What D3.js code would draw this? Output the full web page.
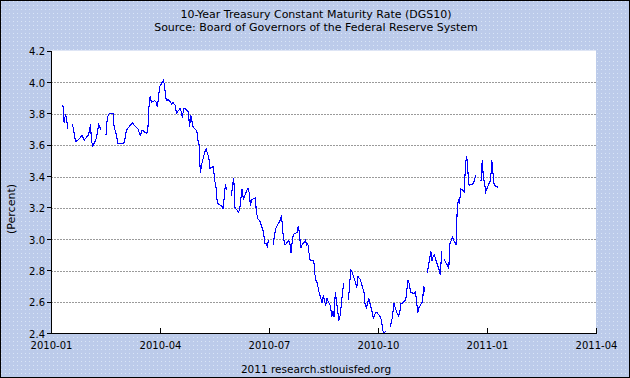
<!DOCTYPE html>
<html><head><meta charset="utf-8">
<script src="https://cdn.jsdelivr.net/npm/d3@7"></script>
<style>
body{margin:0;background:#fff}
svg{display:block}
text{font-family:"DejaVu Sans",Verdana,sans-serif;fill:#000}
</style>
</head><body>
<svg id="chart" width="630" height="378"></svg>
<script>
// ---- data (daily 10-year constant maturity rate, percent; null = market holiday) ----
const dates = [
"2010-01-11","2010-01-12","2010-01-13","2010-01-14","2010-01-15","2010-01-18","2010-01-19","2010-01-20","2010-01-21","2010-01-22","2010-01-25","2010-01-26","2010-01-27","2010-01-28","2010-01-29",
"2010-02-01","2010-02-02","2010-02-03","2010-02-04","2010-02-05","2010-02-08","2010-02-09","2010-02-10","2010-02-11","2010-02-12","2010-02-15","2010-02-16","2010-02-17","2010-02-18","2010-02-19","2010-02-22","2010-02-23","2010-02-24","2010-02-25","2010-02-26",
"2010-03-01","2010-03-02","2010-03-03","2010-03-04","2010-03-05","2010-03-08","2010-03-09","2010-03-10","2010-03-11","2010-03-12","2010-03-15","2010-03-16","2010-03-17","2010-03-18","2010-03-19","2010-03-22","2010-03-23","2010-03-24","2010-03-25","2010-03-26","2010-03-29","2010-03-30","2010-03-31",
"2010-04-01","2010-04-02","2010-04-05","2010-04-06","2010-04-07","2010-04-08","2010-04-09","2010-04-12","2010-04-13","2010-04-14","2010-04-15","2010-04-16","2010-04-19","2010-04-20","2010-04-21","2010-04-22","2010-04-23","2010-04-26","2010-04-27","2010-04-28","2010-04-29","2010-04-30",
"2010-05-03","2010-05-04","2010-05-05","2010-05-06","2010-05-07","2010-05-10","2010-05-11","2010-05-12","2010-05-13","2010-05-14","2010-05-17","2010-05-18","2010-05-19","2010-05-20","2010-05-21","2010-05-24","2010-05-25","2010-05-26","2010-05-27","2010-05-28","2010-05-31",
"2010-06-01","2010-06-02","2010-06-03","2010-06-04","2010-06-07","2010-06-08","2010-06-09","2010-06-10","2010-06-11","2010-06-14","2010-06-15","2010-06-16","2010-06-17","2010-06-18","2010-06-21","2010-06-22","2010-06-23","2010-06-24","2010-06-25","2010-06-28","2010-06-29","2010-06-30",
"2010-07-01","2010-07-02","2010-07-05","2010-07-06","2010-07-07","2010-07-08","2010-07-09","2010-07-12","2010-07-13","2010-07-14","2010-07-15","2010-07-16","2010-07-19","2010-07-20","2010-07-21","2010-07-22","2010-07-23","2010-07-26","2010-07-27","2010-07-28","2010-07-29","2010-07-30",
"2010-08-02","2010-08-03","2010-08-04","2010-08-05","2010-08-06","2010-08-09","2010-08-10","2010-08-11","2010-08-12","2010-08-13","2010-08-16","2010-08-17","2010-08-18","2010-08-19","2010-08-20","2010-08-23","2010-08-24","2010-08-25","2010-08-26","2010-08-27","2010-08-30","2010-08-31",
"2010-09-01","2010-09-02","2010-09-03","2010-09-06","2010-09-07","2010-09-08","2010-09-09","2010-09-10","2010-09-13","2010-09-14","2010-09-15","2010-09-16","2010-09-17","2010-09-20","2010-09-21","2010-09-22","2010-09-23","2010-09-24","2010-09-27","2010-09-28","2010-09-29","2010-09-30",
"2010-10-01","2010-10-04","2010-10-05","2010-10-06","2010-10-07","2010-10-08","2010-10-11","2010-10-12","2010-10-13","2010-10-14","2010-10-15","2010-10-18","2010-10-19","2010-10-20","2010-10-21","2010-10-22","2010-10-25","2010-10-26","2010-10-27","2010-10-28","2010-10-29",
"2010-11-01","2010-11-02","2010-11-03","2010-11-04","2010-11-05","2010-11-08","2010-11-09","2010-11-10","2010-11-11","2010-11-12","2010-11-15","2010-11-16","2010-11-17","2010-11-18","2010-11-19","2010-11-22","2010-11-23","2010-11-24","2010-11-25","2010-11-26","2010-11-29","2010-11-30",
"2010-12-01","2010-12-02","2010-12-03","2010-12-06","2010-12-07","2010-12-08","2010-12-09","2010-12-10","2010-12-13","2010-12-14","2010-12-15","2010-12-16","2010-12-17","2010-12-20","2010-12-21","2010-12-22","2010-12-23","2010-12-24","2010-12-27","2010-12-28","2010-12-29","2010-12-30","2010-12-31",
"2011-01-03","2011-01-04","2011-01-05","2011-01-06","2011-01-07","2011-01-10"
];
const rates = [
3.85,3.74,3.79,3.77,3.70,null,3.73,3.69,3.64,3.62,3.64,3.65,3.66,3.64,3.63,
3.66,3.68,3.73,3.62,3.59,3.64,3.69,3.73,3.71,3.69,null,3.66,3.76,3.79,3.80,3.80,3.70,3.69,3.65,3.61,
3.61,3.61,3.61,3.64,3.69,3.72,3.73,3.74,3.73,3.72,3.70,3.67,3.66,3.69,3.69,3.67,3.69,3.84,3.91,3.87,3.88,3.87,3.84,
3.90,3.97,4.01,3.98,3.90,3.88,3.89,3.86,3.87,3.86,3.85,3.80,3.83,3.81,3.77,3.83,3.83,3.81,3.71,3.79,3.75,3.71,
3.69,3.63,3.60,3.42,3.47,3.56,3.57,3.54,3.53,3.45,3.46,3.37,3.34,3.25,3.22,3.21,3.19,3.26,3.35,3.31,null,
3.27,3.34,3.39,3.20,3.17,3.19,3.26,3.32,3.25,3.31,3.32,3.29,3.21,3.25,3.26,3.17,3.13,3.12,3.11,3.04,2.97,2.97,
2.95,2.99,null,2.96,3.02,3.06,3.08,3.12,3.15,3.05,2.99,2.96,2.99,2.97,2.91,2.99,3.03,3.04,3.08,3.04,2.94,2.96,
2.99,2.96,2.97,2.91,2.86,2.86,2.77,2.73,2.72,2.67,2.59,2.64,2.60,2.58,2.62,2.57,2.50,2.54,2.50,2.66,2.48,2.51,
2.58,2.65,2.72,null,2.61,2.71,2.80,2.79,2.72,2.69,2.76,2.75,2.74,2.66,2.58,2.56,2.59,2.62,2.53,2.49,2.52,2.53,
2.53,2.50,2.46,2.41,2.40,2.41,null,2.44,2.47,2.51,2.59,2.52,2.51,2.53,2.59,2.59,2.61,2.68,2.74,2.71,2.66,
2.65,2.66,2.61,2.53,2.56,2.60,2.70,2.66,null,2.78,2.92,2.86,2.89,2.90,2.87,2.80,2.77,2.92,null,2.87,2.83,2.81,
2.97,2.99,3.01,2.96,3.17,3.25,3.22,3.32,3.30,3.48,3.53,3.43,3.34,3.35,3.36,3.39,3.41,null,3.37,3.50,3.39,3.35,3.30,
3.36,3.37,3.50,3.42,3.34,3.33
];
const yTickValues = [2.4,2.6,2.8,3.0,3.2,3.4,3.6,3.8,4.0,4.2];
const yGridValues = [2.6,2.8,3.0,3.2,3.4,3.6,3.8,4.0];
const xTickValues = [2010,2010.25,2010.5,2010.75,2011,2011.25];
const xTickLabels = ["2010-01","2010-04","2010-07","2010-10","2011-01","2011-04"];
const titleLines = ["10-Year Treasury Constant Maturity Rate (DGS10)","Source: Board of Governors of the Federal Reserve System"];
const yAxisLabel = "(Percent)";
const footerText = "2011 research.stlouisfed.org";

// ---- layout ----
const W = 630, H = 378;
const m = {l:51, r:34, t:50.5, b:45};
const iw = W - m.l - m.r, ih = H - m.t - m.b;

const svg = d3.select("#chart");
const defs = svg.append("defs");
const pat = defs.append("pattern").attr("id","dots").attr("patternUnits","userSpaceOnUse")
  .attr("width",4).attr("height",4);
pat.append("rect").attr("width",4).attr("height",4).attr("fill","#bccbea");
pat.append("rect").attr("x",1).attr("y",1).attr("width",1).attr("height",1).attr("fill","#d9e5f6");
defs.append("clipPath").attr("id","plotclip").append("rect").attr("width",iw).attr("height",ih);

svg.append("rect").attr("width",W).attr("height",H).attr("fill","url(#dots)");
svg.append("rect").attr("x",0.5).attr("y",0.5).attr("width",W-1).attr("height",H-1)
  .attr("fill","none").attr("stroke","#000");

const g = svg.append("g").attr("transform",`translate(${m.l},${m.t})`);
g.append("rect").attr("width",iw).attr("height",ih).attr("fill","#fff");

const parse = d3.utcParse("%Y-%m-%d");
const toYear = s => { const d = parse(s); return d.getUTCFullYear() + d3.utcDay.count(d3.utcYear(d), d)/365; };
const data = dates.map((s,i) => ({t: toYear(s), v: rates[i]}));

const x = d3.scaleLinear().domain([2010, 2011.25]).range([0, iw]);
const y = d3.scaleLinear().domain([2.4, 4.2]).range([ih, 0]);

// grid
g.append("g").selectAll("line").data(yGridValues).join("line")
  .attr("x1",0).attr("x2",iw)
  .attr("y1",d=>Math.round(y(d))+0.5).attr("y2",d=>Math.round(y(d))+0.5)
  .attr("stroke","#9a9a9a").attr("stroke-dasharray","2,1").attr("shape-rendering","crispEdges");

// line
const line = d3.line().defined(d=>d.v!=null).x(d=>x(d.t)).y(d=>y(d.v));
g.append("path").datum(data).attr("clip-path","url(#plotclip)")
  .attr("fill","none").attr("stroke","#0000ff").attr("stroke-width",1.1)
  .attr("shape-rendering","crispEdges")
  .attr("d",line);

// axes
const yAxis = d3.axisLeft(y).tickValues(yTickValues).tickFormat(d3.format(".1f"))
  .tickSize(4).tickSizeOuter(0).tickPadding(2);
const ya = g.append("g").call(yAxis);
ya.selectAll("text").attr("font-size",10).attr("dy","0.42em").style("font-family",'"DejaVu Sans",sans-serif');

const xAxis = d3.axisBottom(x).tickValues(xTickValues).tickFormat((d,i)=>xTickLabels[i])
  .tickSize(-5).tickSizeOuter(0).tickPadding(9);
const xa = g.append("g").attr("transform",`translate(0,${ih})`).call(xAxis);
xa.selectAll("text").attr("font-size",10).style("font-family",'"DejaVu Sans",sans-serif');
[ya, xa].forEach(a => {
  a.selectAll("line").attr("stroke","#000").attr("shape-rendering","crispEdges");
  a.select(".domain").attr("stroke","#000").attr("stroke-width",1.5).attr("shape-rendering","crispEdges");
});

// texts
svg.append("text").attr("x",316).attr("y",18).attr("text-anchor","middle").attr("font-size",11).text(titleLines[0]);
svg.append("text").attr("x",316).attr("y",31).attr("text-anchor","middle").attr("font-size",11).text(titleLines[1]);
svg.append("text").attr("transform","translate(15,209) rotate(-90)").attr("text-anchor","middle").attr("font-size",11).text(yAxisLabel);
svg.append("text").attr("x",316).attr("y",373).attr("text-anchor","middle").attr("font-size",10.5).text(footerText);
</script>
</body></html>
